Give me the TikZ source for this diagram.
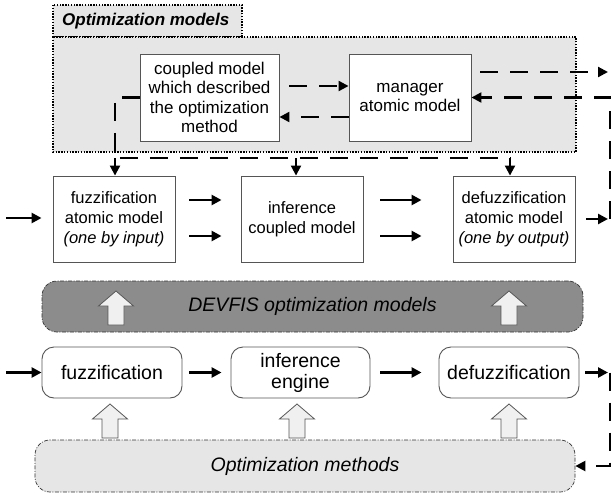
\documentclass[tikz,border=0pt]{standalone}
\usepackage{fontspec}
\setmainfont{Liberation Sans}
\usetikzlibrary{arrows.meta}
\definecolor{boxgray}{HTML}{E6E6E6}
\definecolor{bandgray}{HTML}{8C8C8C}
\definecolor{arrfill}{HTML}{F0F0F0}
\definecolor{edgec}{HTML}{555555}
\begin{document}
\begin{tikzpicture}[x=1pt,y=-1pt,
 sbox/.style={draw=edgec,line width=0.9pt,fill=white,inner sep=0pt,align=center},
 topfont/.style={font=\fontsize{17}{19.5}\selectfont},
 atomfont/.style={font=\fontsize{16.5}{20}\selectfont},
 rbox/.style={draw=edgec,line width=0.9pt,fill=white,rounded corners=12pt,inner sep=0pt,align=center,font=\fontsize{19.5}{21}\selectfont},
 tipa/.tip={Triangle[length=10pt,width=10pt]},
 flow/.style={line width=2.6pt,-tipa},
 dflow/.style={line width=2.2pt,dash pattern=on 18pt off 12pt},
 dotframe/.style={draw=black,line width=1.4pt,dash pattern=on 1.4pt off 1.4pt,fill=boxgray},
 band/.style={draw=black!80,line width=0.7pt,dash pattern=on 4pt off 1.5pt on 1pt off 1.5pt,rounded corners=15pt,inner sep=0pt,font=\fontsize{19.5}{22}\selectfont\itshape},
 blockarr/.style={draw=edgec,line width=0.8pt,fill=arrfill},
 uparr/.pic={\draw[blockarr] (-8,0) -- (-8,-19) -- (-17.5,-19) -- (0,-34) -- (17.5,-19) -- (8,-19) -- (8,0) -- cycle;}
]
\useasboundingbox[fill=white] (0,0) rectangle (611,493);

% Optimization models frame
\path[dotframe] (53,5) rectangle (242,37);
\path[dotframe] (53,37) rectangle (576,152);
\node[anchor=west,inner sep=0pt,font=\fontsize{17}{20}\selectfont\bfseries\itshape] (title) at (62,21) {Optimization models};

\node[sbox,topfont,minimum width=139pt,minimum height=87pt] (coupled) at (209.5,97.5) {coupled model\\which described\\the optimization\\method};
\node[sbox,topfont,minimum width=122pt,minimum height=87pt] (manager) at (410,97.5) {manager\\atomic model};

\node[sbox,atomfont,minimum width=122pt,minimum height=86pt] (fuzzA) at (114,219) {fuzzification\\atomic model\\\textit{(one by input)}};
\node[sbox,atomfont,minimum width=122pt,minimum height=86pt] (infA) at (302,219) {inference\\coupled model};
\node[sbox,atomfont,minimum width=122pt,minimum height=86pt] (defA) at (514,219) {defuzzification\\atomic model\\\textit{(one by output)}};

\node[band,fill=bandgray,minimum width=541pt,minimum height=51pt] (devfis) at (312.5,306.5) {DEVFIS optimization models};
\pic at (116,325) {uparr};
\pic at (509,325) {uparr};

\node[rbox,minimum width=140pt,minimum height=51pt] (fuzz) at (112,372.5) {fuzzification};
\node[rbox,minimum width=139pt,minimum height=51pt] (infE) at (300.5,372.5) {inference\\engine};
\node[rbox,minimum width=140pt,minimum height=51pt] (defz) at (509,372.5) {defuzzification};

\node[band,fill=boxgray,minimum width=540pt,minimum height=52pt] (optm) at (305,466) {Optimization methods};
\pic at (110,438) {uparr};
\pic at (297,438) {uparr};
\pic at (509,438) {uparr};

% coordinates for free ends and corners
\coordinate (inA) at (6,218);
\coordinate (inB) at (6,372.5);
\coordinate (rc1) at (610,219);
\coordinate (rc2) at (610,372.5);
\coordinate (outM) at (608,72);
\coordinate (b1) at (115,158);
\coordinate (b2) at (296,158);
\coordinate (b3) at (510,158);

% upper dashed connectors
\draw[dflow,-tipa,shorten <=10pt] ([yshift=11.5pt]coupled.east) -- ([yshift=11.5pt]manager.west);
\draw[dflow,-tipa] ([yshift=-19.5pt]manager.west) -- ([yshift=-19.5pt]coupled.east);
\draw[dflow,-tipa,shorten <=9pt] ([yshift=25.5pt]manager.east) -- (outM);
\draw[dflow] (coupled.west) -| (b1) -- (b3);
\draw[line width=2pt,-tipa] (b1) -- (b1 |- fuzzA.north);
\draw[line width=2pt,-tipa] (b2) -- (b2 |- infA.north);
\draw[line width=2pt,-tipa] (b3) -- (b3 |- defA.north);

% atomic row
\draw[flow,shorten >=11pt] (inA) -- (inA -| fuzzA.west);
\draw[flow,shorten <=14pt,shorten >=19pt] ([yshift=19pt]fuzzA.east) -- ([yshift=19pt]infA.west);
\draw[flow,shorten <=14pt,shorten >=19pt] ([yshift=-17pt]fuzzA.east) -- ([yshift=-17pt]infA.west);
\draw[flow,shorten <=17pt,shorten >=31pt] ([yshift=19pt]infA.east) -- ([yshift=19pt]defA.west);
\draw[flow,shorten <=17pt,shorten >=31pt] ([yshift=-17pt]infA.east) -- ([yshift=-17pt]defA.west);
\draw[flow,shorten <=11pt,shorten >=2pt] (defA.east) -- (rc1);
\draw[dflow,-tipa] (rc1) |- (manager.east);

% bottom row
\draw[flow] (inB) -- (fuzz.west);
\draw[flow,shorten <=7pt,shorten >=9pt] (fuzz) -- (infE);
\draw[flow,shorten <=10pt,shorten >=17pt] (infE) -- (defz);
\draw[flow,shorten <=6pt,shorten >=2pt] (defz.east) -- (rc2);
\draw[dflow,-tipa] (rc2) |- (optm.east);
\end{tikzpicture}
\end{document}
